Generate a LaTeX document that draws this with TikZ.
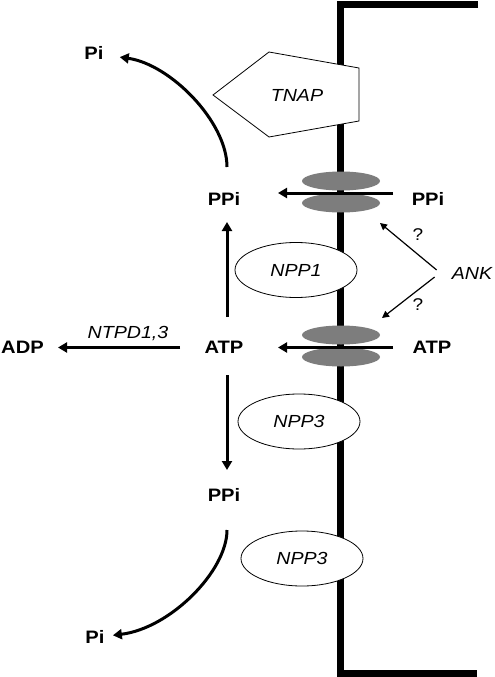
\documentclass[tikz,border=0pt]{standalone}
\usepackage{fontspec}
\setmainfont{Liberation Sans}[FakeStretch=1.12]
\usepackage{tikz}
\usetikzlibrary{arrows.meta}
\usetikzlibrary{shapes.geometric}
\definecolor{channel}{RGB}{125, 125, 125}

\tikzset{
  metab/.style={font=\fontsize{18}{21}\selectfont\bfseries, inner sep=3pt, text height=12.5pt, text depth=0pt},
  enzyme/.style={font=\fontsize{17.5}{21}\selectfont\itshape, inner sep=3pt, text height=12.5pt, text depth=0pt},
  npp/.style={enzyme, draw, line width=0.8pt, fill=white, ellipse, minimum width=122pt, minimum height=55pt, inner sep=0pt},
  flow/.style={line width=3pt, -{Triangle[width=10pt,length=9pt]}},
  hint/.style={line width=1.2pt, -{Triangle[width=7pt,length=7pt]}},
  pore/.style={fill=channel, draw=none},
}

\begin{document}
\begin{tikzpicture}[x=1pt, y=-1pt]
            % Frame to fix the page size
            \useasboundingbox                                   (  0.0,  0.0) rectangle (495.0, 677.0);
            % Membrane
            \draw[line width=7pt]                               (478.0,  5.0) -- (340.5,  5.0) -- (340.5,673.0) -- (477.0,673.0);
            % Channels
            \fill[pore]                                         (341.0,181.0) ellipse (39pt and 9.5pt);
            \fill[pore]                                         (341.0,203.0) ellipse (39pt and 9.5pt);
            \fill[pore]                                         (341.0,335.0) ellipse (39pt and 9.5pt);
            \fill[pore]                                         (341.0,357.0) ellipse (39pt and 9.5pt);
            % TNAP
            \draw[line width=0.8pt, fill=white]                 (269.0, 52.0) -- (359.0, 68.0) -- (359.0,121.0) -- (269.0,137.0) -- (213.0, 95.0) -- cycle;
            \node[enzyme] (tnap)  at (297.0, 95.0) {TNAP};
            % NPP enzymes
            \node[npp]    (npp1)  at (296.0,270.0) {NPP1};
            \node[npp]    (npp3a) at (299.0,421.5) {NPP3};
            \node[npp]    (npp3b) at (302.0,558.5) {NPP3};
            % Metabolites
            \node[metab]  (pi_top)  at ( 94.0, 53.5) {Pi};
            \node[metab]  (ppi_in)  at (224.0,199.0) {PPi};
            \node[metab]  (ppi_out) at (428.0,199.0) {PPi};
            \node[metab]  (atp_in)  at (224.0,347.5) {ATP};
            \node[metab]  (atp_out) at (432.0,347.5) {ATP};
            \node[metab]  (adp)     at ( 22.5,347.5) {ADP};
            \node[metab]  (ppi_low) at (224.0,495.0) {PPi};
            \node[metab]  (pi_low)  at ( 95.0,637.5) {Pi};
            % ANK and labels
            \node[enzyme] (ank)  at (472.0,273.0) {ANK};
            \node[enzyme] (ntpd) at (128.0,332.5) {NTPD1,3};
            \node[font=\fontsize{17}{20}\selectfont, inner sep=0pt] (q_up)  at (418.0,235.0) {?};
            \node[font=\fontsize{17}{20}\selectfont, inner sep=0pt] (q_low) at (418.0,305.0) {?};
            \coordinate (ppi_gate) at (380.0,223.0);
            \coordinate (atp_gate) at (382.0,318.0);
            % Transport
            \draw[flow, shorten <=35pt, shorten >=54pt]         ([yshift=6pt]ppi_out.center) -- ([yshift=6pt]ppi_in.center);
            \draw[flow, shorten <=39pt, shorten >=54pt]         (atp_out.center) -- (atp_in.center);
            % Hydrolysis
            \draw[flow, shorten <=44pt, shorten >=35.5pt]       (atp_in.center) -- (adp.center);
            \draw[flow, shorten <=30.5pt, shorten >=23pt]       ([xshift=3pt]atp_in.center) -- ([xshift=3pt]ppi_in.center);
            \draw[flow, shorten <=27.5pt, shorten >=25pt]       ([xshift=3pt]atp_in.center) -- ([xshift=3pt]ppi_low.center);
            \draw[flow, shorten <=32pt, shorten >=26pt]         ([xshift=3pt]ppi_in.center) to[out=90, in=-8] (pi_top.center);
            \draw[flow, shorten <=35pt, shorten >=18pt]         ([xshift=3pt]ppi_low.center) to[out=-90, in=7] (pi_low.center);
            % ANK effect
            \draw[hint]                                         ([xshift=-12pt, yshift=3pt]ank.west) -- (ppi_gate);
            \draw[hint]                                         ([xshift=-14pt, yshift=-4pt]ank.west) -- (atp_gate);
\end{tikzpicture}
\end{document}
